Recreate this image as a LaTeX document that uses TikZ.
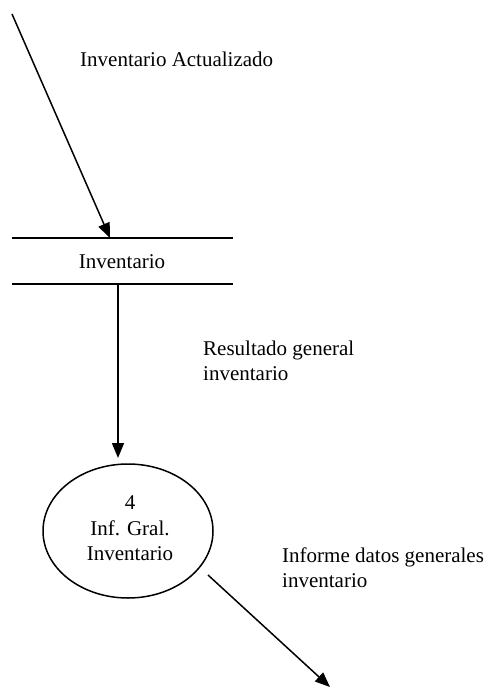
\documentclass[tikz,border=0pt]{standalone}
\usepackage{fontspec}
\setmainfont{Liberation Serif}
\usetikzlibrary{arrows.meta,shapes.geometric}
\begin{document}
\begin{tikzpicture}[x=1pt,y=-1pt,
  flow/.style={line width=1.5pt,-{Triangle[length=15pt,width=12pt]}},
  rule/.style={line width=1.5pt},
  txt/.style={anchor=base,inner sep=0pt,font=\fontsize{21}{25}\selectfont},
  lbl/.style={anchor=base west,inner sep=0pt,font=\fontsize{21}{25}\selectfont,align=left},
  proc/.style={draw,line width=1.5pt,ellipse,minimum width=170pt,minimum height=134pt,inner sep=0pt}]
\useasboundingbox (0,0) rectangle (490,687);
% external source end
\coordinate (src) at (12,14);
% data store
\coordinate (stTL) at (12,238);
\coordinate (stTR) at (233,238);
\coordinate (stBL) at (12,284);
\coordinate (stBR) at (233,284);
\coordinate (stIn) at (110,238);
\coordinate (stOut) at (118,284);
\draw[rule] (stTL) -- (stTR);
\draw[rule] (stBL) -- (stBR);
\node[txt] (store) at (122,268) {Inventario};
% process
\node[proc] (p4) at (128,531) {};
\node[txt] (p4a) at (130,509) {4};
\node[txt] (p4b) at (130,535) {Inf. Gral.};
\node[txt] (p4c) at (130,560) {Inventario};
\coordinate (pIn) at (118,458);
\coordinate (pOut) at (208,575);
\coordinate (sink) at (330,687);
% flows
\draw[flow] (src) -- (stIn);
\draw[flow] (stOut) -- (pIn);
\draw[flow] (pOut) -- (sink);
% labels
\node[lbl] (l1) at (80,67) {Inventario Actualizado};
\node[lbl] (l2) at (203,380) {Resultado general\\inventario};
\node[lbl] (l3) at (282,587) {Informe datos generales\\inventario};
\end{tikzpicture}
\end{document}
